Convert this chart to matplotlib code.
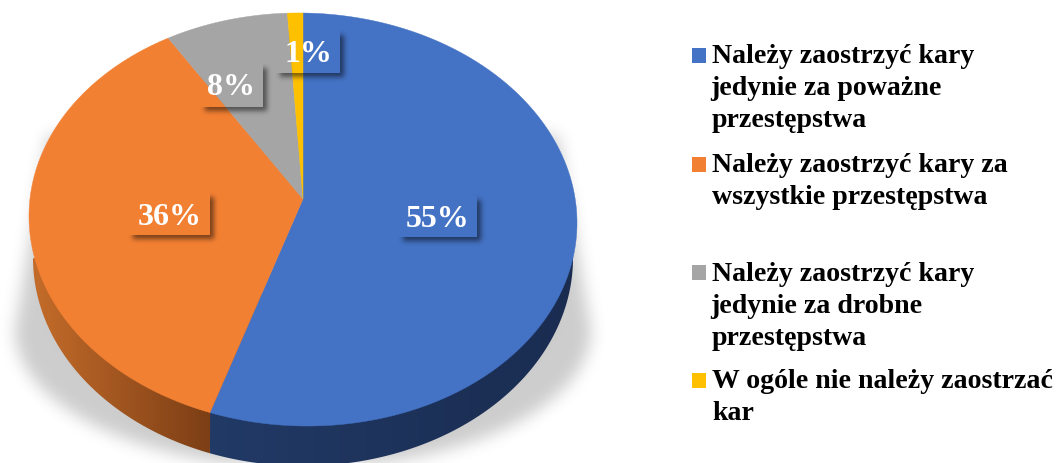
import numpy as np
import matplotlib
matplotlib.use('Agg')
import matplotlib.pyplot as plt
from matplotlib.patches import Polygon, Rectangle

values = [55, 36, 8, 1]
colors = ['#4472C4', '#F28033', '#A5A5A5', '#FFC000']
legend_lines = [
    ['Należy zaostrzyć kary', 'jedynie za poważne', 'przestępstwa'],
    ['Należy zaostrzyć kary za', 'wszystkie przestępstwa'],
    ['Należy zaostrzyć kary', 'jedynie za drobne', 'przestępstwa'],
    ['W ogóle nie należy zaostrzać', 'kar'],
]

W, H = 1057, 463
plt.rcParams['font.family'] = ['Liberation Serif', 'DejaVu Serif']

# ellipse of the top face, the apex sits above its centre (perspective)
cx, cy, a, b = 303, 219.5, 274, 206.5
apex_y = 199
skew = 0.012
p = (apex_y - cy) / b
# bottom rim of the wall
cy2, a2, b2 = 258, 270, 208

# label boxes: x0, y0, x1, y1, text centre x, baseline y
boxes = [(398, 195, 477, 237, 438, 227),
         (128, 192, 210, 235, 170, 225),
         (200, 63, 263, 107, 231, 95),
         (275, 30, 340, 73, 308, 62)]
# legend: first baseline of each entry, top of the square
legend_y = [63, 172, 281, 388]
square_y = [48, 157, 265, 373]


def rim(frac):
    # frac is the share of the circle, clockwise from the top
    t = 2 * np.pi * np.asarray(frac)
    u, v = np.sin(t), -np.cos(t)
    den = 1 + p * v
    vv = (v + p) / den
    uu = u * np.sqrt(1 - p ** 2) / den
    x = cx + a * uu
    return x, cy + b * vv + skew * (x - cx)


def blur(arr, sigma):
    r = int(3 * sigma)
    k = np.exp(-0.5 * (np.arange(-r, r + 1) / sigma) ** 2)
    k = k / k.sum()
    arr = np.apply_along_axis(lambda m: np.convolve(m, k, mode='same'), 0, arr)
    return np.apply_along_axis(lambda m: np.convolve(m, k, mode='same'), 1, arr)


def rgba(alpha, level=0.0):
    img = np.full((H, W, 4), level, dtype=float)
    img[..., 3] = alpha
    return img


fig = plt.figure(figsize=(W / 100, H / 100), dpi=100)
ax = fig.add_axes([0, 0, 1, 1])
gx, gy = np.meshgrid(np.arange(W) + 0.5, np.arange(H) + 0.5)
full = (0, W, H, 0)

# soft ground shadow
half = np.where(gy < 330, 288 - (330 - gy) * 0.17, 288)
mask = (np.abs(gx - cx) < half) & (gy > 135)
low = ((gx - cx) / 288) ** 2 + ((gy - 330) / 138) ** 2 < 1
mask = mask & ((gy < 330) | low)
soft = blur(mask.astype(float), 8)
ax.imshow(rgba(soft * 0.2), extent=full, aspect='auto', zorder=1)

# wall, brightness changes along x
edges = np.cumsum([0] + values) / sum(values)
split_x = rim(edges[1])[0] + 1
t = np.linspace(0, np.pi, 300)
rx = cx + a2 * np.cos(t)
ry = cy2 + b2 * np.sin(t)

# the blue part runs a little under the orange one so no seam shows
orange_mask = rx <= split_x
blue_mask = rx >= split_x - 2
orange_wall = Polygon(np.column_stack([np.r_[split_x, rx[orange_mask]], np.r_[300, ry[orange_mask]]]),
                      closed=True, transform=ax.transData, facecolor='none', edgecolor='none')
blue_wall = Polygon(np.column_stack([np.r_[rx[blue_mask], split_x - 2], np.r_[ry[blue_mask], 300]]),
                    closed=True, transform=ax.transData, facecolor='none', edgecolor='none')
ax.add_patch(orange_wall)
ax.add_patch(blue_wall)

s = np.clip((gx - split_x) / (cx + a2 - split_x), 0, 1)[..., None]
wall_b = np.array([0x21, 0x3A, 0x66]) / 255 * (1 - s) + np.array([0x1A, 0x2C, 0x50]) / 255 * s
im = ax.imshow(wall_b, extent=full, aspect='auto', zorder=2)
im.set_clip_path(blue_wall)
s = np.clip((gx - 33) / (split_x - 33), 0, 1)[..., None]
wall_o = np.array([0xC4, 0x6C, 0x2A]) / 255 * (1 - s) + np.array([0x7C, 0x3E, 0x15]) / 255 * s
im = ax.imshow(wall_o, extent=full, aspect='auto', zorder=2)
im.set_clip_path(orange_wall)


def wedge(i):
    fr = np.linspace(edges[i], edges[i + 1], 200)
    x, y = rim(fr)
    pts = np.column_stack([np.r_[cx, x], np.r_[apex_y, y]])
    return Polygon(pts, closed=True, facecolor=colors[i], edgecolor=colors[i], linewidth=0.3)


for i in range(len(values)):
    pp = wedge(i)
    pp.set_zorder(3)
    ax.add_patch(pp)

# shadows of the label boxes, then the pie again inside each box
box_mask = np.zeros((H, W))
for x0, y0, x1, y1, _, _ in boxes:
    box_mask[(gx > x0 + 5) & (gx < x1 + 4) & (gy > y0 + 5) & (gy < y1 + 4)] = 1
ax.imshow(rgba(blur(box_mask, 2.5) * 0.5), extent=full, aspect='auto', zorder=4)

for x0, y0, x1, y1, _, _ in boxes:
    clip = Rectangle((x0, y0), x1 - x0, y1 - y0, transform=ax.transData)
    for i in range(len(values)):
        pp = wedge(i)
        pp.set_zorder(5)
        ax.add_patch(pp)
        pp.set_clip_path(clip)

for v, (_, _, _, _, tx, ty) in zip(values, boxes):
    ax.text(tx, ty, f'{v}%', color='white', fontsize=23, fontweight='bold',
            ha='center', va='baseline', zorder=6)

# legend
for i, lines in enumerate(legend_lines):
    ax.add_patch(Rectangle((692, square_y[i]), 14, 14.5, facecolor=colors[i], edgecolor='none'))
    for j, line in enumerate(lines):
        lx = 710 if line.startswith('j') else 712
        ax.text(lx, legend_y[i] + j * 32, line, color='black', fontsize=20.1, fontweight='bold',
                ha='left', va='baseline')

ax.set_xlim(0, W)
ax.set_ylim(H, 0)
ax.axis('off')
fig.savefig('out.png', dpi=100)
